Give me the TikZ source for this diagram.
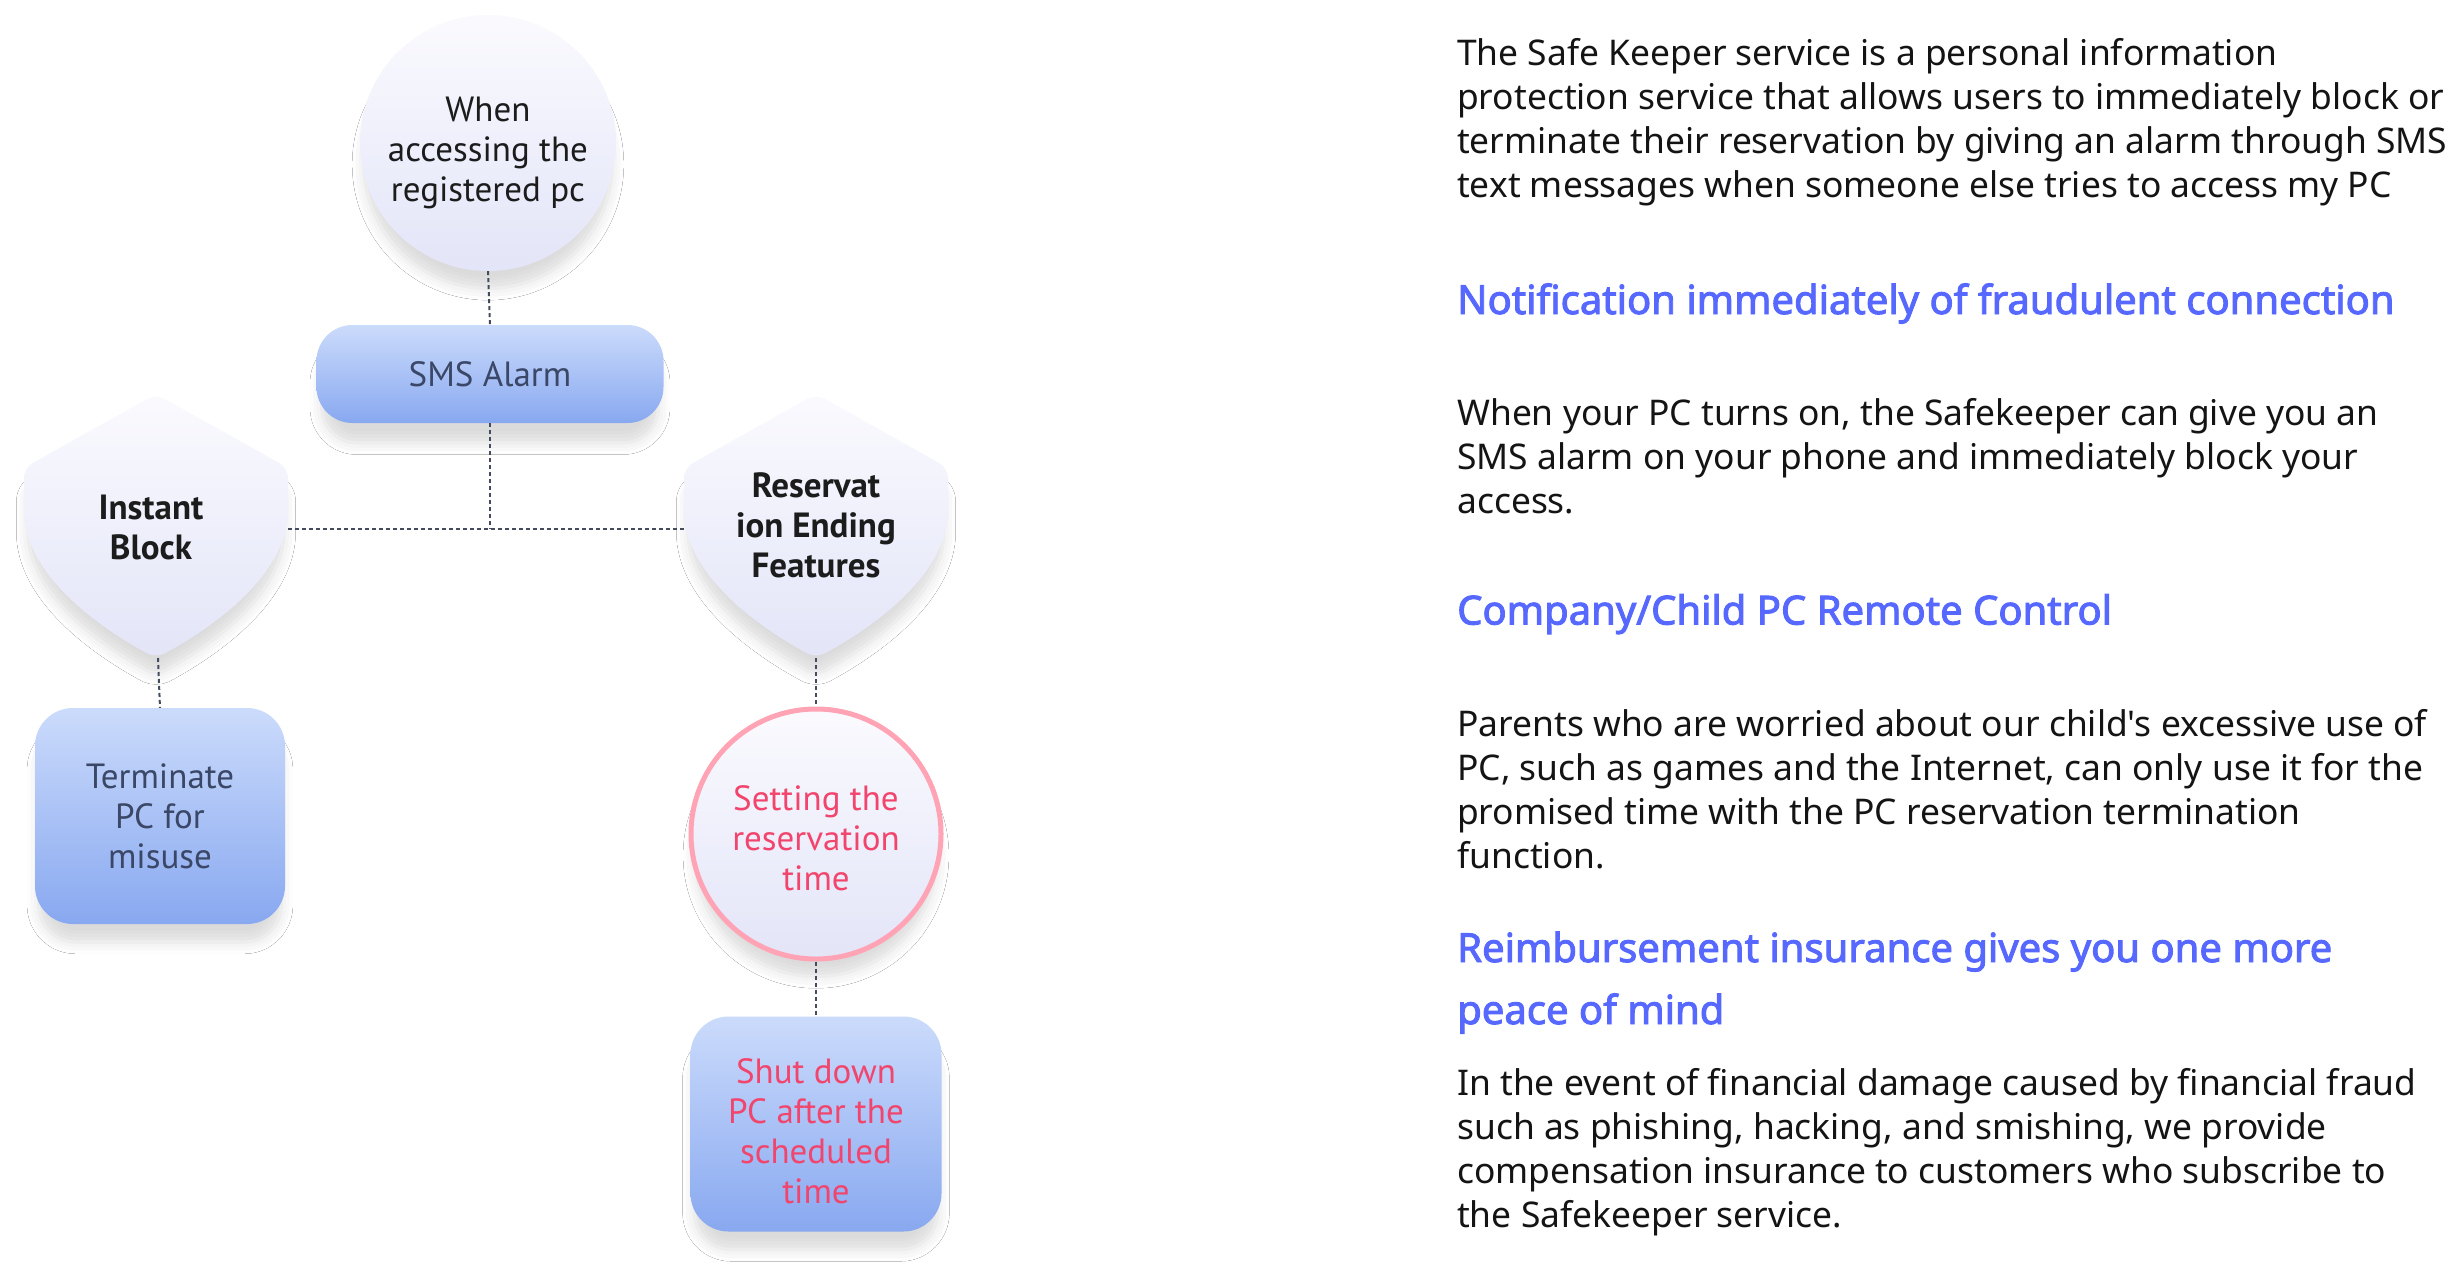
\documentclass[tikz,border=0pt]{standalone}
\usepackage{fontspec}
\newfontfamily\bodyfont{Noto Sans}
\newfontfamily\headfont[FakeBold=2.4]{Noto Sans}
\newfontfamily\diagfont{PT Sans}
\usetikzlibrary{shadows.blur}
\definecolor{dotc}{HTML}{454B5E}
\definecolor{bodyc}{HTML}{141414}
\definecolor{headc}{HTML}{5668FF}
\definecolor{darkc}{HTML}{1C1C1C}
\definecolor{slatec}{HTML}{3A4766}
\definecolor{pinkc}{HTML}{F2456D}
\definecolor{pinkb}{HTML}{FFA3B5}
\definecolor{boxtop}{HTML}{CBDBFB}
\definecolor{boxbot}{HTML}{88A8F0}
\definecolor{bubtop}{HTML}{FAFAFE}
\definecolor{bubbot}{HTML}{E3E5F8}
\tikzset{
  conn/.style={draw=dotc, line width=2pt, dash pattern=on 4pt off 3pt},
  softshadow/.style={blur shadow={shadow xshift=0pt, shadow yshift=-22pt, shadow blur radius=12pt, shadow opacity=14, shadow scale=0.97}},
  bubble/.style={circle, inner sep=0pt, top color=bubtop, bottom color=bubbot, softshadow},
  bluebox/.style={rectangle, rounded corners=36pt, inner sep=0pt, top color=boxtop, bottom color=boxbot, softshadow,
    align=center, font={\diagfont\fontsize{35}{40}\selectfont}, text=slatec},
  dtext/.style={inner sep=0pt, align=center, font={\diagfont\fontsize{35}{40}\selectfont}, text=darkc},
  shieldfill/.style={top color=bubtop, bottom color=bubbot, softshadow, rounded corners=10pt},
  shieldtext/.style={inner sep=0pt, align=center, font={\diagfont\bfseries\fontsize{35}{40}\selectfont}, text=darkc},
  body/.style={anchor=base west, inner sep=0pt, font={\bodyfont\fontsize{35.4}{44}\selectfont}, text=bodyc},
  head/.style={anchor=base west, inner sep=0pt, font={\headfont\fontsize{40}{44}\selectfont}, text=headc}
}
\newcommand{\myshield}[1]{%
  \path[shieldfill, shift={(#1,0)}] (0,394) -- (-132,468) -- (-132,500)
    .. controls (-132,575) and (-56,628) .. (0,658)
    .. controls (56,628) and (132,575) .. (132,500) -- (132,468) -- cycle;}
\begin{document}
\begin{tikzpicture}[x=1pt,y=-1pt]
\useasboundingbox[fill=white] (0,0) rectangle (2450,1264);

% shields
\myshield{156}
\myshield{816}
\coordinate (ibbot) at (158,658);
\coordinate (ibright) at (288,529);
\coordinate (rebot) at (816,658);
\coordinate (releft) at (686,529);
\coordinate (jn) at (490,529);
\node[shieldtext] (ib) at (151,527) {Instant\\Block};
\node[shieldtext] (re) at (816,525) {Reservat\\ion Ending\\Features};

% circles and boxes
\node[bubble, minimum size=256pt] (q) at (488,143) {};
\node[dtext] (qt) at (488,153) {When\\accessing the\\registered pc};
\node[bluebox, minimum width=347pt, minimum height=98pt] (sms) at (490,374) {SMS Alarm};
\node[bluebox, minimum width=250pt, minimum height=216pt, rounded corners=38pt] (term) at (160,816) {Terminate\\PC for\\misuse};
\node[bubble, minimum size=250pt, draw=pinkb, line width=5pt] (set) at (816,834) {};
\node[dtext, text=pinkc] (sett) at (816,838) {Setting the\\reservation\\time};
\node[bluebox, minimum width=251pt, minimum height=215pt, rounded corners=38pt] (shut) at (816,1124) {};
\node[dtext, text=pinkc] (shutt) at (816,1131) {Shut down\\PC after the\\scheduled\\time};

% connectors
\draw[conn] (q.south) -- (sms.north);
\draw[conn] (sms.south) -- (jn);
\draw[conn] (ibright) -- (releft);
\draw[conn] (ibbot) -- (term.north);
\draw[conn] (rebot) -- (set.north);
\draw[conn] (set.south) -- (shut.north);

% right text column
\node[body] (p1a) at (1457,65) {The Safe Keeper service is a personal information};
\node[body] (p1b) at (1457,109) {protection service that allows users to immediately block or};
\node[body] (p1c) at (1457,153) {terminate their reservation by giving an alarm through SMS};
\node[body] (p1d) at (1457,197) {text messages when someone else tries to access my PC};
\node[head] (h1) at (1457,314) {Notification immediately of fraudulent connection};
\node[body] (p2a) at (1457,425) {When your PC turns on, the Safekeeper can give you an};
\node[body] (p2b) at (1457,469) {SMS alarm on your phone and immediately block your};
\node[body] (p2c) at (1457,513) {access.};
\node[head] (h2) at (1457,624.5) {Company/Child PC Remote Control};
\node[body] (p3a) at (1457,736) {Parents who are worried about our child's excessive use of};
\node[body] (p3b) at (1457,780) {PC, such as games and the Internet, can only use it for the};
\node[body] (p3c) at (1457,824) {promised time with the PC reservation termination};
\node[body] (p3d) at (1457,868) {function.};
\node[head] (h3a) at (1457,962) {Reimbursement insurance gives you one more};
\node[head] (h3b) at (1457,1024) {peace of mind};
\node[body] (p4a) at (1457,1095) {In the event of financial damage caused by financial fraud};
\node[body] (p4b) at (1457,1139) {such as phishing, hacking, and smishing, we provide};
\node[body] (p4c) at (1457,1183) {compensation insurance to customers who subscribe to};
\node[body] (p4d) at (1457,1227) {the Safekeeper service.};
\end{tikzpicture}
\end{document}
